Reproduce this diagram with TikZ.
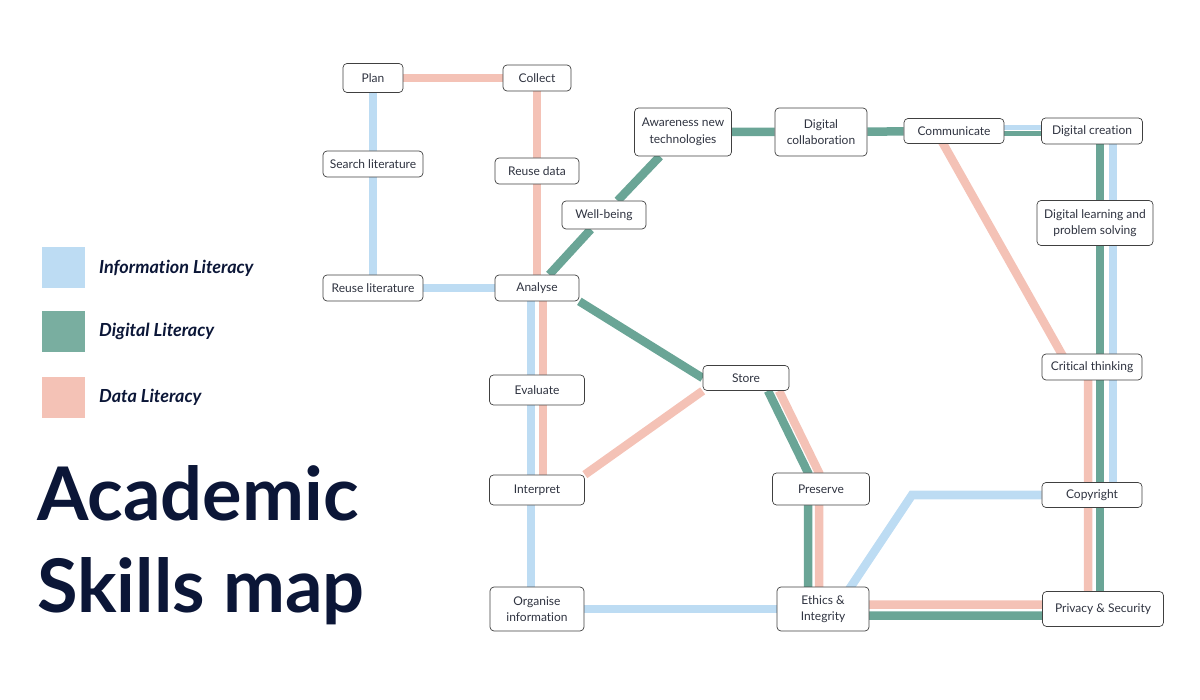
\documentclass[tikz,border=0pt]{standalone}
\usepackage{fontspec}
\setmainfont{Lato}[Ligatures=NoCommon]
\usetikzlibrary{calc}
\pgfdeclarelayer{back}
\pgfsetlayers{back,main}
\definecolor{infoblue}{HTML}{BDDCF3}
\definecolor{digigreen}{HTML}{6AA596}
\definecolor{datapink}{HTML}{F4C2B6}
\definecolor{navy}{HTML}{0B1637}
\definecolor{inkgrey}{HTML}{2F3340}
\begin{document}
\begin{tikzpicture}[x=1pt, y=-1pt, line join=round]
\tikzset{
    skill/.style={draw=black!75, fill=white, line width=0.7pt, rounded corners=4pt, text=inkgrey, font=\fontsize{12}{16.5}\selectfont, align=center, inner sep=2pt, minimum height=26pt},
    route/.style={line width=8.5pt},
    thinroute/.style={line width=5pt},
    keybox/.style={minimum width=43pt, minimum height=41pt, inner sep=0pt},
    keytext/.style={anchor=west, inner sep=0pt, text=navy, font=\fontsize{18}{21}\selectfont\bfseries\itshape},
    titletext/.style={anchor=base west, text=navy, font=\fontsize{74}{85}\selectfont\bfseries, inner sep=0pt}
}
\useasboundingbox (0,0) rectangle (1200,700);

\node[keybox, fill=infoblue] (kinfo) at (63.5,268) {};
\node[keybox, fill=digigreen!90!white] (kdigi) at (63.5,331.5) {};
\node[keybox, fill=datapink] (kdata) at (63.5,397.5) {};
\node[keytext] (tinfo) at (99,268) {Informat\kern0pt ion Literacy};
\node[keytext] (tdigi) at (99,331.5) {Digital Literacy};
\node[keytext] (tdata) at (99,397.5) {Data Literacy};
\node[titletext] (ttla) at (37,520) {Academic};
\node[titletext] (ttlb) at (37,612) {Skills map};

\node[skill, minimum width=60pt, minimum height=29pt] (plan) at (373,78) {Plan};
\node[skill, minimum width=68pt] (coll) at (537,78) {Collect};
\node[skill, minimum width=100pt] (srch) at (373,164) {Search literature};
\node[skill, minimum width=84pt] (rdat) at (537,171) {Reuse data};
\node[skill, minimum width=84pt, minimum height=28pt] (well) at (604,215) {Well-being};
\node[skill, minimum width=100pt] (rlit) at (373,288) {Reuse literature};
\node[skill, minimum width=84pt] (anal) at (537,288) {Analyse};
\node[skill, minimum width=97pt, minimum height=48pt] (awar) at (683,132) {Awareness new\\technologies};
\node[skill, minimum width=92pt, minimum height=48pt] (dcol) at (821,132) {Digital\\collaborat\kern0pt ion};
\node[skill, minimum width=100pt, minimum height=25pt] (comm) at (954,131) {Communicate};
\node[skill, minimum width=101pt] (dcre) at (1092,131) {Digital creat\kern0pt ion};
\node[skill, minimum width=116pt, minimum height=45pt] (dlps) at (1095,223) {Digital learning and\\problem solving};
\node[skill, minimum width=100pt] (crit) at (1092,367) {Critical thinking};
\node[skill, minimum width=100pt, minimum height=25pt] (copy) at (1092,495) {Copyright};
\node[skill, minimum width=121pt, minimum height=35pt] (priv) at (1103,609) {Privacy \& Security};
\node[skill, minimum width=86pt, minimum height=25pt] (stor) at (746,378) {Store};
\node[skill, minimum width=95pt, minimum height=30pt] (eval) at (537,390) {Evaluate};
\node[skill, minimum width=95pt, minimum height=30pt] (intp) at (537,490) {Interpret};
\node[skill, minimum width=97pt, minimum height=32pt] (pres) at (821,489) {Preserve};
\node[skill, minimum width=94pt, minimum height=44pt] (orga) at (537,609) {Organise\\informat\kern0pt ion};
\node[skill, minimum width=92pt, minimum height=44pt] (ethi) at (823,609) {Ethics \&\\Integrity};
\coordinate (bend) at (912,495);

\begin{pgfonlayer}{back}
\draw[route, infoblue] (plan) -- (srch) -- (rlit) -- ($(anal)+(-6,0)$) -- ($(eval)+(-6,0)$) -- ($(intp)+(-6,0)$) -- ($(orga)+(-6,0)$);
\draw[route, infoblue] (orga) -- (ethi);
\draw[route, infoblue] ($(ethi)+(13,0)$) -- (bend) -- (copy);
\draw[route, infoblue] ($(dcre)+(21,0)$) -- ($(dlps)+(18,0)$) -- ($(crit)+(21,0)$) -- ($(copy)+(21,0)$);
\draw[thinroute, infoblue] ($(comm)+(0,-3)$) -- ($(dcre)+(0,-3)$);

\draw[route, datapink] (plan) -- (coll) -- (rdat) -- (anal);
\draw[route, datapink] ($(anal)+(6,0)$) -- ($(eval)+(6,0)$) -- ($(intp)+(6,0)$);
\draw[route, datapink] (intp.north east) -- (stor.south west);
\draw[route, datapink] ($(stor.south)+(33,0)$) -- ($(pres.north)+(-2,0)$) -- ($(ethi)+(-4,0)$) -- ($(ethi)+(-4,-4.5)$) -- ($(priv)+(0,-4.5)$);
\draw[route, datapink] ($(comm)+(-18,0)$) -- ($(crit)+(-23,0)$) -- ($(crit)+(-4,0)$) -- ($(copy)+(-4,0)$) -- ($(priv)+(-15,0)$);

\draw[route, digigreen] (anal) -- (well) -- (awar) -- (dcol) -- (comm);
\draw[thinroute, digigreen] ($(comm)+(0,3)$) -- ($(dcre)+(0,3)$);
\draw[route, digigreen] ($(dcre)+(8,0)$) -- ($(dlps)+(5,0)$) -- ($(crit)+(8,0)$) -- ($(copy)+(8,0)$) -- ($(priv)+(-3,0)$);
\draw[route, digigreen] (anal.south east) -- (stor.west);
\draw[route, digigreen] ($(stor.south)+(22,0)$) -- ($(pres.north)+(-13,0)$) -- ($(ethi)+(-15,0)$) -- ($(ethi)+(-15,6.5)$) -- ($(priv)+(0,6.5)$);
\end{pgfonlayer}
\end{tikzpicture}
\end{document}
